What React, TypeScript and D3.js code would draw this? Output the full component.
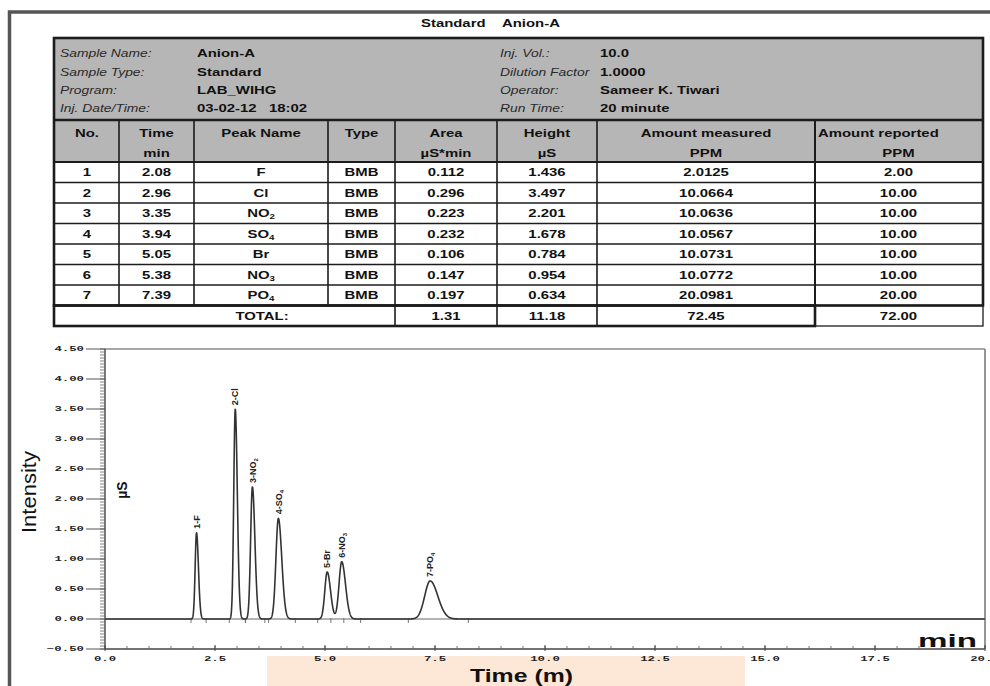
import React from "react";
import * as d3 from "d3";

const W = 990;
const H = 686;

// report header
const reportTitle = ["Standard", "Anion-A"];
const metaLabelsLeft = ["Sample Name:", "Sample Type:", "Program:", "Inj. Date/Time:"];
const metaValuesLeft = ["Anion-A", "Standard", "LAB_WIHG", "03-02-12\u00A0\u00A0\u00A018:02"];
const metaLabelsRight = ["Inj. Vol.:", "Dilution Factor", "Operator:", "Run Time:"];
const metaValuesRight = ["10.0", "1.0000", "Sameer K. Tiwari", "20 minute"];

// peak table
const colHead1 = ["No.", "Time", "Peak Name", "Type", "Area", "Height", "Amount measured", "Amount reported"];
const colHead2 = ["", "min", "", "", "µS*min", "µS", "PPM", "PPM"];
const peakNo = [1, 2, 3, 4, 5, 6, 7];
const retTime = [2.08, 2.96, 3.35, 3.94, 5.05, 5.38, 7.39];
const ion = ["F", "Cl", "NO", "SO", "Br", "NO", "PO"];
const ionSub = ["", "", "2", "4", "", "3", "4"];
const peakType = ["BMB", "BMB", "BMB", "BMB", "BMB", "BMB", "BMB"];
const area = [0.112, 0.296, 0.223, 0.232, 0.106, 0.147, 0.197];
const height = [1.436, 3.497, 2.201, 1.678, 0.784, 0.954, 0.634];
const amtMeasured = [2.0125, 10.0664, 10.0636, 10.0567, 10.0731, 10.0772, 20.0981];
const amtReported = [2.0, 10.0, 10.0, 10.0, 10.0, 10.0, 20.0];
const totalLabel = "TOTAL:";
const totals = ["1.31", "11.18", "72.45", "72.00"];

// chromatogram axes
const xTicks = [0, 2.5, 5, 7.5, 10, 12.5, 15, 17.5, 20];
const yTicks = [-0.5, 0, 0.5, 1, 1.5, 2, 2.5, 3, 3.5, 4, 4.5];

const sans = "'Liberation Sans', Arial, Helvetica, sans-serif";
const mono = "'Liberation Mono', 'DejaVu Sans Mono', monospace";

type STProps = {
  x: number; y: number; sx?: number; anchor?: "start" | "middle" | "end";
  size?: number; bold?: boolean; italic?: boolean; fill?: string; family?: string;
  children: React.ReactNode;
};

// text stretched sideways like the scanned report
function ST({ x, y, sx = 1.42, anchor = "middle", size = 10.5, bold = true, italic = false, fill = "#111", family = sans, children }: STProps) {
  return (
    <text
      transform={`translate(${x},${y}) scale(${sx},1)`}
      textAnchor={anchor}
      fontSize={size}
      fontWeight={bold ? "bold" : "normal"}
      fontStyle={italic ? "italic" : "normal"}
      fill={fill}
      fontFamily={family}
    >
      {children}
    </text>
  );
}

function Ion({ i }: { i: number }) {
  return (
    <>
      {ion[i]}
      {ionSub[i] && <tspan fontSize="65%" dy={2}>{ionSub[i]}</tspan>}
    </>
  );
}

function Table() {
  const edges = [55, 119, 194, 328, 395, 497, 597, 815, 982];
  const centers = edges.slice(0, -1).map((e, i) => (e + edges[i + 1]) / 2);
  const top = 38, metaBottom = 120, headBottom = 162, rowH = 20.5;
  const rowTop = (i: number) => headBottom + i * rowH;
  const totalTop = rowTop(7);
  const bottom = rowTop(8);
  const metaY = [57, 75.5, 93.5, 112];

  const rows = peakNo.map((n, i) => [
    String(n),
    retTime[i].toFixed(2),
    <Ion i={i} />,
    peakType[i],
    area[i].toFixed(3),
    height[i].toFixed(3),
    amtMeasured[i].toFixed(4),
    amtReported[i].toFixed(2),
  ]);

  return (
    <g>
      <ST x={421} y={27} anchor="start">{reportTitle[0]}</ST>
      <ST x={502} y={27} anchor="start">{reportTitle[1]}</ST>

      <rect x={54} y={top} width={929} height={headBottom - top} fill="#b6b6b6" />
      <rect x={54} y={headBottom} width={929} height={bottom - headBottom} fill="#fff" />

      {metaLabelsLeft.map((l, i) => (
        <g key={"ml" + i}>
          <ST x={60} y={metaY[i]} anchor="start" bold={false} italic sx={1.32} fill="#2a2a2a">{l}</ST>
          <ST x={197} y={metaY[i]} anchor="start">{metaValuesLeft[i]}</ST>
        </g>
      ))}
      {metaLabelsRight.map((l, i) => (
        <g key={"mr" + i}>
          <ST x={500} y={metaY[i]} anchor="start" bold={false} italic sx={1.32} fill="#2a2a2a">{l}</ST>
          <ST x={600} y={metaY[i]} anchor="start">{metaValuesRight[i]}</ST>
        </g>
      ))}

      {colHead1.map((h, j) =>
        j === 7 ? (
          <ST key={"h1" + j} x={818} y={137} anchor="start">{h}</ST>
        ) : (
          <ST key={"h1" + j} x={centers[j]} y={137}>{h}</ST>
        )
      )}
      {colHead2.map((h, j) => h && <ST key={"h2" + j} x={centers[j]} y={157}>{h}</ST>)}

      {rows.map((r, i) =>
        r.map((c, j) => (
          <ST key={`c${i}-${j}`} x={centers[j]} y={rowTop(i) + 14}>{c}</ST>
        ))
      )}
      <ST x={262} y={totalTop + 14}>{totalLabel}</ST>
      {totals.map((t, k) => (
        <ST key={"t" + k} x={centers[4 + k]} y={totalTop + 14}>{t}</ST>
      ))}

      {/* grid */}
      <g stroke="#1c1c1c" fill="none">
        {d3.range(1, 7).map((i) => (
          <line key={"r" + i} x1={54} x2={983} y1={rowTop(i)} y2={rowTop(i)} strokeWidth={1.4} />
        ))}
        <line x1={54} x2={983} y1={metaBottom} y2={metaBottom} strokeWidth={2.4} />
        <line x1={54} x2={983} y1={headBottom} y2={headBottom} strokeWidth={2} />
        {edges.slice(1, -1).map((e, j) => (
          <line
            key={"v" + j}
            x1={e} x2={e} y1={metaBottom}
            y2={e >= 395 ? bottom : totalTop}
            strokeWidth={e === 815 ? 2 : 1.6}
          />
        ))}
        <rect x={54} y={top} width={929} height={totalTop - top} strokeWidth={2.6} />
        <rect x={54} y={totalTop} width={815 - 54} height={rowH} strokeWidth={2.6} />
        <rect x={815} y={totalTop} width={983 - 815} height={rowH} strokeWidth={1.3} />
      </g>
    </g>
  );
}

function Chromatogram() {
  const x = d3.scaleLinear().domain([0, 20]).range([105, 985]);
  const y = d3.scaleLinear().domain([-0.5, 4.5]).range([649, 349]);

  // gaussian width from area / height, with a little tailing
  const sig = area.map((a, i) => a / (height[i] * Math.sqrt(2 * Math.PI)));
  const tail = 1.4;
  const signal = (t: number) =>
    d3.sum(retTime, (rt, i) => {
      const s = t < rt ? sig[i] : sig[i] * tail;
      return height[i] * Math.exp(-0.5 * ((t - rt) / s) ** 2);
    });
  const ts = d3.range(0, 20.0001, 0.004);
  const trace = d3.line<number>().x((t) => x(t)).y((t) => y(signal(t)))(ts) || "";

  const yMinor = d3.range(0, 101).map((k) => -0.5 + k * 0.05);
  const xMinor = d3.range(0, 41).map((k) => k * 0.5);
  const fy = d3.format(".2f");
  const fx = d3.format(".1f");

  return (
    <g>
      {/* watermark band */}
      <rect x={267} y={656} width={478} height={30} fill="#fde8d8" />

      <line x1={x(0)} x2={x(20)} y1={y(4.5)} y2={y(4.5)} stroke="#8a8a8a" strokeWidth={1.6} />
      <line x1={x(20)} x2={x(20)} y1={y(4.5)} y2={y(-0.5)} stroke="#8a8a8a" strokeWidth={1.8} />
      <line x1={x(0)} x2={x(20)} y1={y(0)} y2={y(0)} stroke="#9a9a9a" strokeWidth={1.4} />

      {/* integration marks */}
      {retTime.map((rt, i) => (
        <g key={"im" + i} stroke="#777" strokeWidth={1}>
          <line x1={x(rt - 4 * sig[i])} x2={x(rt - 4 * sig[i])} y1={y(0) - 1} y2={y(0) + 4} />
          <line x1={x(rt + 5 * sig[i] * tail)} x2={x(rt + 5 * sig[i] * tail)} y1={y(0) - 1} y2={y(0) + 4} />
        </g>
      ))}

      <path d={trace} fill="none" stroke="#333" strokeWidth={1.6} strokeLinejoin="round" />

      {retTime.map((rt, i) => (
        <text
          key={"pl" + i}
          transform={`translate(${x(rt) + 3.2},${y(height[i]) - 4}) rotate(-90)`}
          fontSize={9}
          fontWeight="bold"
          fontFamily={sans}
          fill="#222"
        >
          {peakNo[i]}-<Ion i={i} />
        </text>
      ))}

      {/* y axis */}
      <line x1={x(0)} x2={x(0)} y1={y(4.5)} y2={y(-0.5)} stroke="#444" strokeWidth={1.4} />
      {yMinor.map((v, k) => (
        <line key={"ym" + k} x1={x(0) - 5} x2={x(0)} y1={y(v)} y2={y(v)} stroke="#666" strokeWidth={0.8} />
      ))}
      {yTicks.map((v) => (
        <g key={"yt" + v}>
          <line x1={x(0) - 19} x2={x(0)} y1={y(v)} y2={y(v)} stroke="#555" strokeWidth={1} />
          <ST x={84} y={y(v) + 2.3} anchor="end" size={6.5} sx={1.9} family={mono} fill="#222">
            {fy(v)}
          </ST>
        </g>
      ))}

      {/* x axis */}
      <line x1={x(0)} x2={x(20)} y1={y(-0.5)} y2={y(-0.5)} stroke="#444" strokeWidth={1.4} />
      {xMinor.map((v, k) => (
        <line key={"xm" + k} x1={x(v)} x2={x(v)} y1={y(-0.5) - 3} y2={y(-0.5)} stroke="#666" strokeWidth={0.9} />
      ))}
      {xTicks.map((v) => (
        <g key={"xt" + v}>
          <line x1={x(v)} x2={x(v)} y1={y(-0.5) - 4} y2={y(-0.5) + 2} stroke="#444" strokeWidth={1} />
          <ST x={x(v)} y={y(-0.5) + 11.5} size={6.5} sx={1.9} family={mono} fill="#222">
            {fx(v)}
          </ST>
        </g>
      ))}

      <text
        transform="translate(36,492) rotate(-90)"
        textAnchor="middle"
        fontSize={21}
        fontFamily={sans}
        fill="#111"
        textLength={82}
        lengthAdjust="spacingAndGlyphs"
      >
        Intensity
      </text>
      <text transform="translate(127,490) rotate(-90)" textAnchor="middle" fontSize={14} fontWeight="bold" fontFamily={sans} fill="#111">
        µS
      </text>
      <text
        x={918}
        y={647}
        fontSize={18}
        fontWeight="bold"
        fontFamily={sans}
        fill="#111"
        textLength={59}
        lengthAdjust="spacingAndGlyphs"
      >
        min
      </text>
      <text
        x={470}
        y={682}
        fontSize={18}
        fontWeight="bold"
        fontFamily={sans}
        fill="#111"
        textLength={103}
        lengthAdjust="spacingAndGlyphs"
      >
        Time (m)
      </text>
    </g>
  );
}

export default function App() {
  return (
    <svg
      width={W}
      height={H}
      viewBox={`0 0 ${W} ${H}`}
      style={{ position: "absolute", left: 0, top: 0, display: "block", background: "#fff" }}
    >
      <rect x={0} y={0} width={W} height={H} fill="#fff" />
      {/* page frame */}
      <path d={`M${W + 5},12 H9.5 V${H + 5}`} fill="none" stroke="#555" strokeWidth={3.5} />
      <Table />
      <Chromatogram />
    </svg>
  );
}
